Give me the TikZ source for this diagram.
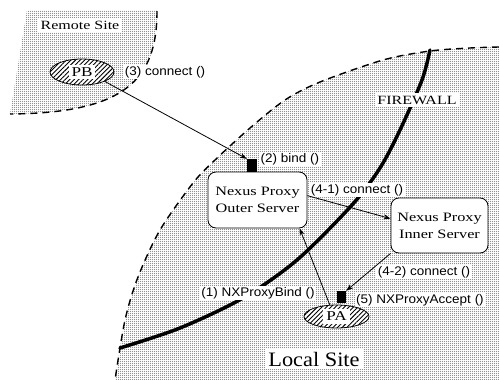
\documentclass[tikz,border=0pt]{standalone}
\usepackage{fontspec}
\newfontfamily\wserif{Liberation Serif}[FakeStretch=1.27]
\newfontfamily\lserif{Liberation Serif}[FakeStretch=1.09]
\newfontfamily\wsans{Liberation Sans}[FakeStretch=1.08]
\usetikzlibrary{arrows.meta,patterns,patterns.meta,shapes.geometric,backgrounds}
\tikzdeclarepattern{name=fdots,type=uncolored,bottom left={(0pt,0pt)},top right={(2pt,2pt)},tile size={(2pt,2pt)},code={\fill (1pt,1pt) circle (0.65pt);}}
\begin{document}
\begin{tikzpicture}[x=1pt,y=-1pt,
  site/.style={pattern=fdots,pattern color=black!75},
  border/.style={dash pattern=on 7pt off 5pt,line width=1.4pt},
  fw/.style={line width=3.5pt,line cap=round},
  server/.style={draw,line width=0.8pt,rounded corners=8pt,fill=white,minimum width=99pt,minimum height=56pt,align=center,font=\wserif\fontsize{12.8}{17}\selectfont,inner sep=0pt},
  proc/.style={draw,ellipse,line width=0.8pt,preaction={fill=white},pattern={Lines[angle=45,distance=3.2pt,line width=0.9pt]},inner sep=0pt},
  proclabel/.style={fill=white,inner sep=3pt,font=\wserif\fontsize{13.5}{15}\selectfont},
  lbl/.style={fill=white,inner sep=1.5pt,font=\wsans\fontsize{12.5}{15}\selectfont},
  slbl/.style={fill=white,inner sep=2.5pt,font=\wserif\fontsize{12.6}{15}\selectfont},
  port/.style={fill=black,inner sep=0pt},
  conn/.style={line width=0.8pt,-{Stealth[length=7pt,width=5pt]}}]
\useasboundingbox (0,0) rectangle (499,380);
% nodes
\node[slbl] (remote) at (80,25) {Remote Site};
\node[proc,minimum width=64pt,minimum height=26pt,label={[proclabel]center:PB}] (PB) at (82,72) {};
\node[lbl] (c3) at (165,72) {(3) connect ()};
\node[port,minimum width=10pt,minimum height=13pt] (p2) at (252,165.5) {};
\node[lbl] (b2) at (290,159) {(2) bind ()};
\node[server] (outer) at (257.5,200) {Nexus Proxy\\Outer Server};
\node[lbl] (c41) at (357,190) {(4-1) connect ()};
\node[server,minimum width=97pt,minimum height=55pt] (inner) at (439.5,225.5) {Nexus Proxy\\Inner Server};
\node[lbl] (c42) at (424,272) {(4-2) connect ()};
\node[port,minimum width=9pt,minimum height=12pt] (p5) at (341.5,297) {};
\node[lbl] (a5) at (420,300) {(5) NXProxyAccept ()};
\node[proc,minimum width=65pt,minimum height=23pt,label={[proclabel]center:PA}] (PA) at (336.5,316.5) {};
\node[lbl] (b1) at (258,293) {(1) NXProxyBind ()};
\node[slbl,font=\lserif\fontsize{20.5}{24}\selectfont,inner sep=3pt] (local) at (314,359) {Local Site};
\node[slbl] (fwl) at (417,100) {FIREWALL};
% connectors
\draw[conn] (PB.south east) -- (p2.north west);
\draw[conn] (outer.5) -- (inner.172);
\draw[conn] (inner.south west) -- (p5.north east);
\draw[conn] (PA.120) -- (outer.-34.7);
% background regions
\begin{scope}[on background layer]
\fill[site] (27,10) -- (157,10) -- (157,13) .. controls (157,80) and (125,113) .. (10,114) -- cycle;
\draw[border] (157,11) .. controls (157,80) and (125,113) .. (10,114);
\fill[site] plot[smooth] coordinates {(499,47) (470,48) (430,51) (383,60) (320,82) (285,100) (250,128) (215,160) (193,183) (160,230) (138,277) (125,320) (115,380)} -- (499,380) -- cycle;
\draw[border] plot[smooth] coordinates {(499,47) (470,48) (430,51) (383,60) (320,82) (285,100) (250,128) (215,160) (193,183) (160,230) (138,277) (125,320) (115,380)};
\draw[fw] plot[smooth] coordinates {(430,50) (422,80) (400,130) (380,168) (352,205) (297,260) (243,298) (180,328) (120,348)};
\end{scope}
\end{tikzpicture}
\end{document}
